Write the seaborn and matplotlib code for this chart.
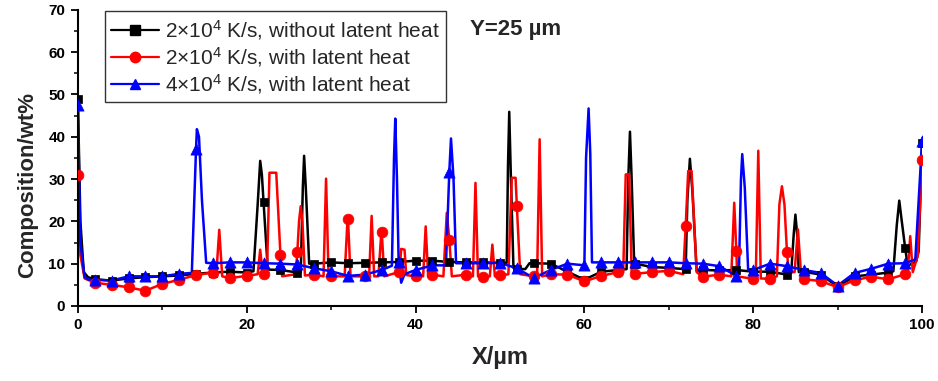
import numpy as np
import pandas as pd
import matplotlib
matplotlib.use("Agg")
import matplotlib.pyplot as plt
from matplotlib.lines import Line2D
from matplotlib.ticker import MultipleLocator
import seaborn as sns

# ---------------- data ----------------
marker_x = list(range(0, 101, 2))

black_marker_y = [49, 6.3, 6.0, 6.5, 6.8, 7.0, 7.2, 7.6, 7.9, 8.1, 7.9, 24.5, 8.5, 7.9, 10.0,
                  10.3, 10.1, 10.2, 10.3, 10.4, 10.7, 10.7, 10.4, 10.3, 10.3, 10.2, 8.8, 10.1,
                  10.0, 8.1, 6.2, 8.1, 8.5, 10.0, 9.2, 9.0, 8.7, 8.5, 8.4, 8.5, 8.1, 8.1, 7.4,
                  8.1, 7.4, 4.6, 7.0, 7.4, 7.9, 13.7, 38.5]
black_extra_x = [0.3, 0.7, 1.2, 20.8, 21.3, 21.6, 21.8, 22.5, 26.4, 26.65, 26.8, 27.0, 27.4,
                 50.8, 50.95, 51.1, 51.3, 51.6, 53.0, 53.5,
                 65.0, 65.2, 65.4, 65.6, 65.9, 71.9, 72.2, 72.5, 72.8, 73.3,
                 84.5, 84.8, 85.0, 85.2, 85.4, 96.6, 97.0, 97.3, 97.6, 98.3, 99.3, 99.6]
black_extra_y = [20, 8, 6.8, 8.2, 24, 34.3, 31, 8.6, 8.0, 28, 35.5, 28, 10.0,
                 10.2, 33, 45.9, 30, 9.0, 8.7, 10.1,
                 8.7, 30, 41.2, 30, 10.0, 8.7, 25, 34.8, 27, 8.3,
                 7.8, 17, 21.6, 17, 8.0, 8.2, 19, 24.9, 20, 9.5, 10.5, 13]

red_marker_y = [31, 5.5, 5.0, 4.4, 3.6, 5.2, 6.2, 7.3, 7.9, 6.6, 7.1, 7.5, 12.0, 12.8, 7.4,
                7.0, 20.6, 7.0, 17.4, 8.0, 7.0, 7.4, 15.7, 7.4, 6.8, 7.2, 23.7, 7.0, 7.5, 7.4,
                5.8, 7.1, 8.0, 7.6, 8.0, 8.3, 18.8, 6.9, 7.4, 13.1, 6.4, 6.4, 12.7, 6.3, 5.9,
                4.4, 6.1, 6.9, 6.3, 7.5, 34.5]
red_extra_x = [0.3, 0.8, 16.4, 16.75, 17.1, 21.3, 21.6, 21.9, 22.4, 22.7, 23.5, 24.2,
               25.8, 26.2, 26.4, 26.6, 26.9, 29.1, 29.4, 29.7, 31.6, 31.95, 32.3, 34.5, 34.8, 35.1,
               35.6, 35.95, 36.3, 38.1, 38.3, 38.7, 38.9, 40.9, 41.2, 41.5, 43.3, 43.7, 44.3,
               46.8, 47.1, 47.4, 48.8, 49.1, 49.4, 51.0, 51.4, 51.85, 52.4, 54.4, 54.7, 55.0,
               64.6, 64.9, 65.3, 65.6, 71.7, 72.3, 72.7, 73.3, 77.4, 77.75, 78.1,
               80.3, 80.6, 80.9, 82.8, 83.1, 83.4, 83.7, 84.2, 84.9, 85.3, 85.7,
               98.3, 98.6, 98.9, 99.5]
red_extra_y = [12, 6.5, 7.5, 18.0, 7.0, 7.5, 13.3, 7.5, 7.5, 31.5, 31.5, 7.0,
               7.5, 20, 23.6, 20, 7.2, 7.0, 30.1, 7.0, 7.0, 20.8, 7.0, 7.0, 21.3, 7.0,
               7.0, 17.5, 7.0, 8.0, 13.5, 13.3, 7.3, 7.0, 18.8, 7.0, 7.0, 22.0, 7.0,
               7.0, 29.1, 7.0, 7.0, 14.5, 7.0, 7.5, 30.3, 30.3, 7.5, 7.0, 39.4, 7.0,
               8.0, 31.1, 31.1, 8.0, 7.5, 31.9, 31.9, 8.0, 7.0, 24.4, 7.0,
               6.5, 36.7, 6.5, 7.0, 24, 28.3, 24, 8.0, 8.0, 18.1, 6.5,
               8.0, 16.5, 8.0, 12]

blue_marker_y = [47.5, 6.2, 6.0, 7.0, 7.0, 7.0, 7.6, 37.2, 10.1, 10.3, 10.3, 10.1, 10.0, 9.8,
                 8.9, 8.2, 7.1, 7.4, 8.5, 10.4, 8.5, 9.6, 31.7, 10.1, 10.1, 10.2, 8.9, 6.6,
                 8.5, 10.0, 9.6, 10.3, 10.3, 10.3, 10.3, 10.3, 10.1, 10.0, 9.4, 7.1, 8.5,
                 10.0, 9.4, 8.5, 7.8, 4.8, 7.8, 8.8, 10.0, 10.1, 39.0]
blue_extra_x = [0.3, 0.8, 1.3, 13.5, 14.1, 14.35, 14.7, 15.2, 37.2, 37.45, 37.6, 37.8, 38.3, 38.7,
                43.6, 44.2, 44.5, 44.8, 60.2, 60.5, 60.7, 60.9, 78.3, 78.55, 78.7, 79.0, 79.4, 99.2]
blue_extra_y = [15, 6.8, 6.2, 7.8, 41.8, 40.0, 25, 10.2, 9.5, 35, 44.3, 30, 5.5, 7.5,
                9.6, 39.6, 30, 10.1, 35, 46.7, 36, 10.3, 7.5, 30, 35.9, 28, 8.5, 11]

labels = ["2×10$^4$ K/s, without latent heat",
          "2×10$^4$ K/s, with latent heat",
          "4×10$^4$ K/s, with latent heat"]
colors = ["#000000", "#ff0000", "#0000ff"]
markers = ["s", "o", "^"]
msizes = [40, 60, 65]

# ---------------- figure ----------------
sns.set_style("ticks")
plt.rcParams["font.family"] = ["Liberation Sans", "DejaVu Sans"]
plt.rcParams["mathtext.default"] = "regular"

fig = plt.figure(figsize=(9.38, 3.81), dpi=100)
ax = fig.add_axes([0.083, 0.197, 0.9, 0.777])

series = [
    (black_marker_y, black_extra_x, black_extra_y),
    (red_marker_y, red_extra_x, red_extra_y),
    (blue_marker_y, blue_extra_x, blue_extra_y),
]

for (my, ex, ey), lab, col, mk, ms in zip(series, labels, colors, markers, msizes):
    line_df = pd.DataFrame({"x": list(marker_x) + list(ex), "y": list(my) + list(ey)})
    line_df = line_df.sort_values("x").reset_index(drop=True)
    sns.lineplot(data=line_df, x="x", y="y", ax=ax, color=col, lw=1.8,
                 sort=False, estimator=None, legend=False)
    mdf = pd.DataFrame({"x": marker_x, "y": my})
    sns.scatterplot(data=mdf, x="x", y="y", ax=ax, color=col, marker=mk, s=ms,
                    edgecolor=col, linewidth=0.5, legend=False, zorder=3)

ax.set_xlim(0, 100)
ax.set_ylim(0, 70)
ax.xaxis.set_major_locator(MultipleLocator(20))
ax.xaxis.set_minor_locator(MultipleLocator(10))
ax.yaxis.set_major_locator(MultipleLocator(10))
ax.yaxis.set_minor_locator(MultipleLocator(5))
ax.tick_params(which="major", direction="out", length=5, width=1.3, colors="black", pad=4)
ax.tick_params(which="minor", direction="out", length=3, width=1.1, colors="black")
for lab in ax.get_xticklabels() + ax.get_yticklabels():
    lab.set_fontfamily(["Liberation Sans Narrow", "Liberation Sans", "DejaVu Sans"])
    lab.set_fontweight("bold")
    lab.set_fontsize(11)
sns.despine(ax=ax)
for sp in ["left", "bottom"]:
    ax.spines[sp].set_linewidth(1.5)
    ax.spines[sp].set_color("black")

ax.set_xlabel("X/µm", fontsize=17, fontweight="bold",
              family=["Liberation Sans Narrow", "Liberation Sans", "DejaVu Sans"], labelpad=10)
ax.set_ylabel("Composition/wt%", fontsize=16, fontweight="bold",
              family=["Liberation Sans Narrow", "Liberation Sans", "DejaVu Sans"])
ax.yaxis.set_label_coords(-0.047, 0.41)

handles = [Line2D([0], [0], color=c, marker=m, markersize=7.5, lw=1.6)
           for c, m in zip(colors, markers)]
leg = ax.legend(handles, labels, loc="upper left", bbox_to_anchor=(0.032, 0.995),
                frameon=True, fancybox=False, fontsize=15, handlelength=2.3,
                borderpad=0.3, labelspacing=0.15, handletextpad=0.3, borderaxespad=0.0)
leg.get_frame().set_edgecolor("black")
leg.get_frame().set_linewidth(1.0)

ax.text(0.465, 0.935, "Y=25 µm", transform=ax.transAxes, fontsize=16, fontweight="bold",
        ha="left", va="center")

fig.savefig("out.png", dpi=100)
